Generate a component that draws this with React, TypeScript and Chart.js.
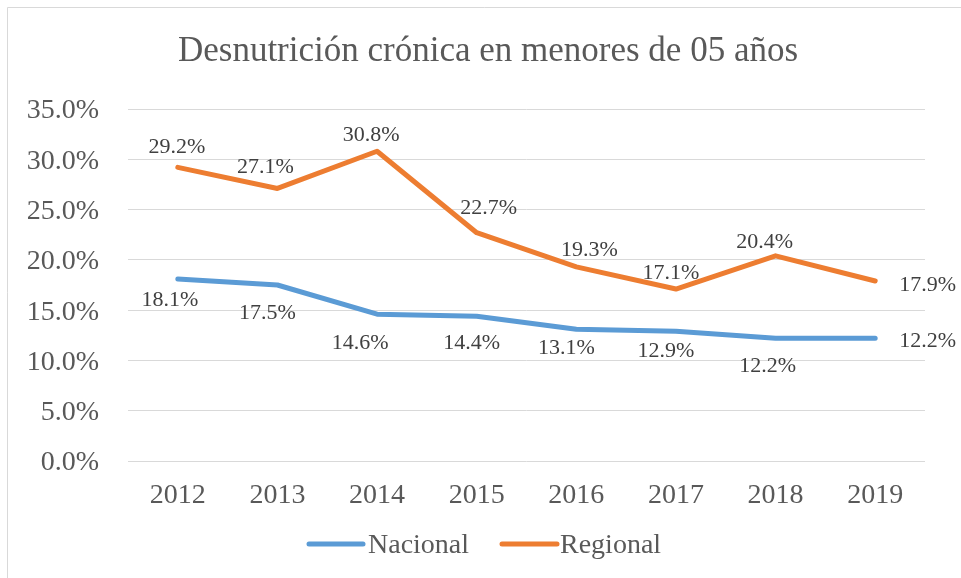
import React, { useEffect, useRef } from "react";
import { Chart, registerables } from "chart.js";

Chart.register(...registerables);

const years = ["2012", "2013", "2014", "2015", "2016", "2017", "2018", "2019"];
const nacional = [18.1, 17.5, 14.6, 14.4, 13.1, 12.9, 12.2, 12.2];
const regional = [29.2, 27.1, 30.8, 22.7, 19.3, 17.1, 20.4, 17.9];
const yTicks = [0, 5, 10, 15, 20, 25, 30, 35];
const titleText = "Desnutrición crónica en menores de 05 años";

// label placement (style only)
const nacionalLabelDx = [-8, -10, -17, -5, -10, -10, -8, 24];
const nacionalLabelDy = [21, 28, 29, 27, 19, 20, 28, 3];
const regionalLabelDx = [-1, -12, -6, 12, 13, -5, -11, 24];
const regionalLabelDy = [-20, -21, -16, -24, -17, -16, -14, 4];
const labelAlign = ["center", "center", "center", "center", "center", "center", "center", "left"];

const BLUE = "#5B9BD5";
const ORANGE = "#ED7D31";
const TEXT = "#595959";
const GRID = "#D9D9D9";
const FONT = "'Liberation Serif', 'Times New Roman', serif";

export default function App() {
  const ref = useRef<HTMLCanvasElement | null>(null);

  useEffect(() => {
    const canvas = ref.current;
    if (!canvas) return;

    const decor = {
      id: "decor",
      beforeDraw(chart: any) {
        const ctx = chart.ctx;
        ctx.save();
        ctx.fillStyle = "#ffffff";
        ctx.fillRect(0, 0, chart.width, chart.height);
        ctx.strokeStyle = GRID;
        ctx.lineWidth = 1;
        ctx.beginPath();
        ctx.moveTo(7.5, chart.height);
        ctx.lineTo(7.5, 7.5);
        ctx.lineTo(chart.width, 7.5);
        ctx.stroke();
        ctx.restore();
      },
      afterDraw(chart: any) {
        const ctx = chart.ctx;
        ctx.save();
        // title
        ctx.fillStyle = TEXT;
        ctx.font = `35px ${FONT}`;
        ctx.textAlign = "center";
        ctx.textBaseline = "middle";
        ctx.fillText(titleText, 488, 52);
        // legend
        const items = [
          { label: "Nacional", color: BLUE, x0: 309, x1: 363, tx: 368 },
          { label: "Regional", color: ORANGE, x0: 502, x1: 557, tx: 560 },
        ];
        const ly = 545;
        ctx.font = `28px ${FONT}`;
        ctx.textAlign = "left";
        for (const it of items) {
          ctx.strokeStyle = it.color;
          ctx.lineWidth = 5;
          ctx.lineCap = "round";
          ctx.beginPath();
          ctx.moveTo(it.x0, ly - 1);
          ctx.lineTo(it.x1, ly - 1);
          ctx.stroke();
          ctx.fillStyle = TEXT;
          ctx.fillText(it.label, it.tx, ly + 1);
        }
        ctx.restore();
      },
      afterDatasetsDraw(chart: any) {
        const ctx = chart.ctx;
        ctx.save();
        ctx.font = `22px ${FONT}`;
        ctx.fillStyle = "#404040";
        ctx.textBaseline = "middle";
        const cfg = [
          { dx: nacionalLabelDx, dy: nacionalLabelDy },
          { dx: regionalLabelDx, dy: regionalLabelDy },
        ];
        chart.data.datasets.forEach((ds: any, di: number) => {
          const meta = chart.getDatasetMeta(di);
          meta.data.forEach((pt: any, i: number) => {
            const v = ds.data[i];
            ctx.textAlign = labelAlign[i];
            ctx.fillText(v.toFixed(1) + "%", pt.x + cfg[di].dx[i], pt.y + cfg[di].dy[i]);
          });
        });
        ctx.restore();
      },
    };

    const chart = new Chart(canvas, {
      type: "line",
      data: {
        labels: years,
        datasets: [
          {
            label: "Nacional",
            data: nacional,
            borderColor: BLUE,
            backgroundColor: BLUE,
            borderWidth: 5,
            pointRadius: 0,
            tension: 0,
            borderCapStyle: "round",
            borderJoinStyle: "round",
          },
          {
            label: "Regional",
            data: regional,
            borderColor: ORANGE,
            backgroundColor: ORANGE,
            borderWidth: 5,
            pointRadius: 0,
            tension: 0,
            borderCapStyle: "round",
            borderJoinStyle: "round",
          },
        ],
      },
      options: {
        responsive: false,
        animation: false,
        devicePixelRatio: 1,
        layout: { padding: { left: 0, top: 109, right: 36, bottom: 0 } },
        plugins: {
          legend: { display: false },
          title: { display: false },
          tooltip: { enabled: false },
        },
        scales: {
          x: {
            offset: true,
            grid: { display: false, drawTicks: false },
            border: { display: false },
            ticks: {
              color: TEXT,
              font: { family: FONT, size: 28 },
              padding: 18,
              maxRotation: 0,
            },
            afterFit(scale: any) {
              scale.height = 117;
            },
          },
          y: {
            min: 0,
            max: 35,
            afterBuildTicks(scale: any) {
              scale.ticks = yTicks.map((v) => ({ value: v }));
            },
            grid: { color: GRID, lineWidth: 1, drawTicks: false },
            border: { display: false },
            ticks: {
              color: TEXT,
              font: { family: FONT, size: 28 },
              padding: 29,
              labelOffset: 2,
              callback: (v: any) => Number(v).toFixed(1) + "%",
            },
            afterFit(scale: any) {
              scale.width = 128;
            },
          },
        },
      },
      plugins: [decor],
    } as any);

    return () => chart.destroy();
  }, []);

  return (
    <div style={{ position: "absolute", left: 0, top: 0, width: 961, height: 578 }}>
      <canvas ref={ref} width={961} height={578} style={{ display: "block" }} />
    </div>
  );
}
